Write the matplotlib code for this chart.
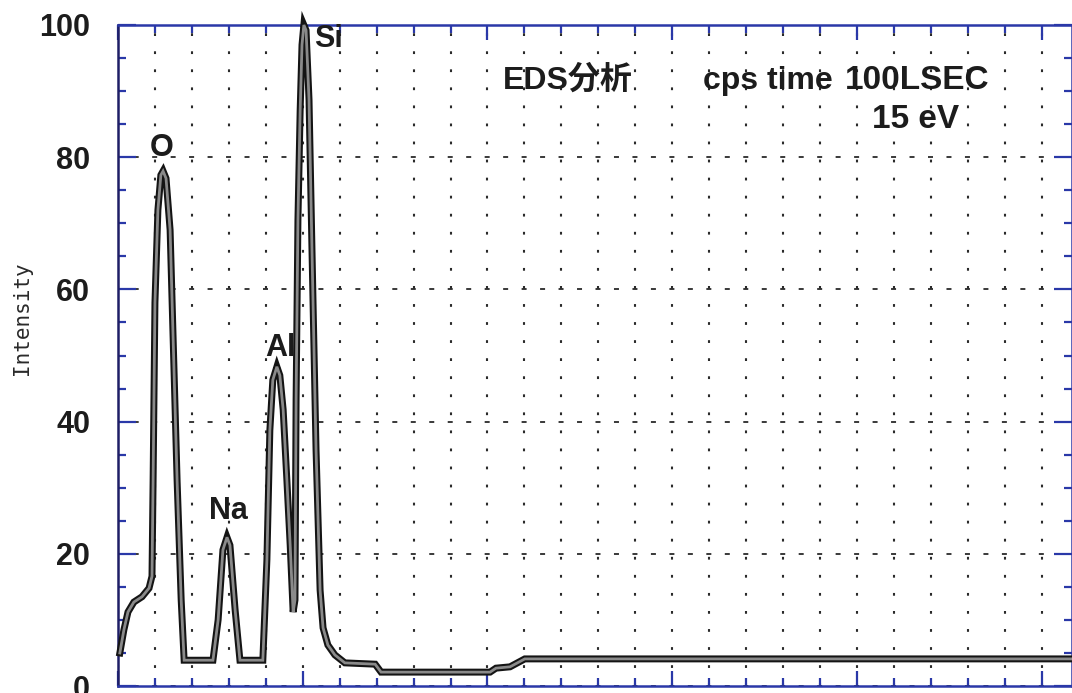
import matplotlib
matplotlib.use("Agg")
import matplotlib.pyplot as plt
from matplotlib.ticker import MultipleLocator

plt.rcParams["lines.scale_dashes"] = False

# Spectrum trace (channel position, intensity)
energy = [0.05, 0.16, 0.27, 0.43, 0.65, 0.84, 0.92, 0.95, 1.00, 1.08, 1.16, 1.22,
          1.30, 1.41, 1.54, 1.60, 1.71, 1.79, 2.57, 2.71, 2.84, 2.95, 3.03, 3.17,
          3.30, 3.92, 4.03, 4.11, 4.19, 4.30, 4.38, 4.47, 4.57, 4.66, 4.74, 4.79,
          4.82, 4.87, 4.93, 4.98, 5.03, 5.09, 5.17, 5.25, 5.36, 5.47, 5.55, 5.68,
          5.87, 6.14, 6.96, 7.12, 10.07, 10.23, 10.61, 11.01, 25.82]
intensity = [5.0, 8.5, 11.2, 12.7, 13.5, 14.8, 16.6, 31.0, 58.0, 72.0, 77.3, 77.9,
             76.8, 69.0, 43.0, 31.0, 13.0, 3.9, 3.9, 10.0, 20.6, 22.5, 21.3, 11.5,
             3.9, 3.9, 19.1, 38.7, 46.3, 48.3, 47.0, 41.8, 31.2, 21.3, 11.2, 13.0,
             43.3, 70.5, 87.1, 97.0, 100.0, 99.2, 88.7, 66.0, 35.7, 14.5, 8.8, 6.2,
             4.7, 3.5, 3.3, 2.1, 2.1, 2.7, 2.9, 4.1, 4.1]

# Element labels: name, x, baseline y, horizontal alignment
peak_names = ["O", "Na", "Al", "Si"]
peak_x = [1.19, 3.00, 3.98, 5.30]
peak_y = [80.2, 25.2, 50.0, 96.6]
peak_ha = ["center", "center", "left", "left"]

y_ticks = [0, 20, 40, 60, 80, 100]

blue = "#2a38a8"
ink = "#1c1c1c"

fig = plt.figure(figsize=(10.72, 6.93), dpi=100)
ax = fig.add_axes([118 / 1072, 7 / 693, 1 - 118 / 1072, (686 - 25) / 693])

ax.set_xlim(0, 25.82)
ax.set_ylim(0, 100)

# grid: dotted verticals at every channel, dashed horizontals at major levels
ax.xaxis.set_major_locator(MultipleLocator(5))
ax.xaxis.set_minor_locator(MultipleLocator(1))
ax.set_yticks(y_ticks)
ax.yaxis.set_minor_locator(MultipleLocator(5))
ax.xaxis.grid(True, which="both", color="#2a2a2a", linewidth=1.5,
              linestyle=(0, (2.0, 11.0)))
ax.yaxis.grid(True, which="major", color="#2a2a2a", linewidth=1.3,
              linestyle=(2, (3.6, 9.7)))
ax.set_axisbelow(True)

# trace: dark outline with grey core
ax.plot(energy, intensity, color="#141414", linewidth=5.0, zorder=3,
        solid_joinstyle="miter", clip_on=False)
ax.plot(energy, intensity, color="#8a8a8a", linewidth=2.0, zorder=4,
        solid_joinstyle="miter", clip_on=False)

label_font = ["Liberation Sans", "DejaVu Sans"]
for name, x, y, ha in zip(peak_names, peak_x, peak_y, peak_ha):
    ax.text(x, y, name, ha=ha, va="baseline", fontsize=22, color=ink,
            family=label_font, fontweight="bold", zorder=5)

note_font = ["Liberation Sans", "Noto Sans CJK JP"]
ax.text(10.42, 90.3, "EDS分析", ha="left", va="baseline", fontsize=23,
        color=ink, family=note_font, fontweight="bold")
ax.text(15.83, 90.3, "cps time", ha="left", va="baseline", fontsize=23,
        color=ink, family=note_font, fontweight="bold")
ax.text(19.68, 90.3, "100LSEC", ha="left", va="baseline", fontsize=24,
        color=ink, family=note_font, fontweight="bold")
ax.text(20.42, 84.4, "15 eV", ha="left", va="baseline", fontsize=24,
        color=ink, family=note_font, fontweight="bold")

# frame and ticks
for side, sp in ax.spines.items():
    sp.set_color(blue)
    sp.set_linewidth(1.8)
ax.spines["left"].set_color("#1e1e66")

ax.tick_params(axis="both", which="both", direction="in", top=True, right=True,
               colors=blue, width=1.6)
ax.tick_params(axis="x", which="major", length=11)
ax.tick_params(axis="x", which="minor", length=6)
ax.tick_params(axis="y", which="major", length=13, pad=20)
ax.tick_params(axis="y", which="minor", length=6)
ax.tick_params(axis="x", labelbottom=False)
for lab in ax.get_yticklabels():
    lab.set_family("Liberation Sans")
    lab.set_fontweight("bold")
    lab.set_fontsize(22)
    lab.set_color(ink)

fig.text(22 / 1072, 1 - 318 / 693, "Intensity", rotation=90, ha="center",
         va="center", fontsize=15, family="DejaVu Sans Mono", color="#2a2a2a")

fig.savefig("out.png", dpi=100)
